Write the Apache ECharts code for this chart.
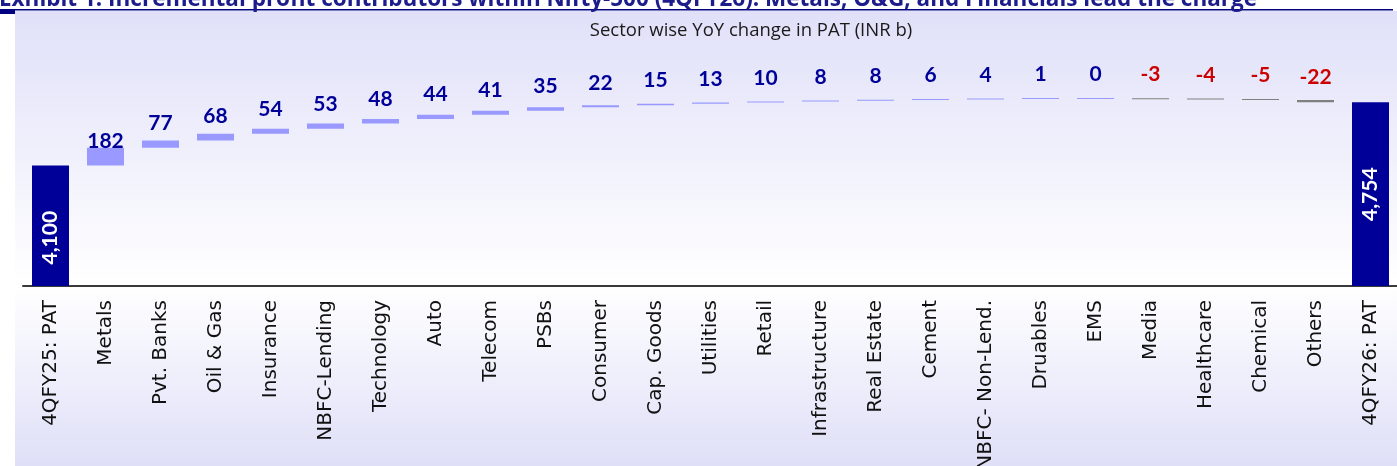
<!DOCTYPE html>
<html><head><meta charset="utf-8">
<script src="https://cdn.jsdelivr.net/npm/echarts@6/dist/echarts.min.js"></script>
<style>html,body{margin:0;padding:0;background:#fff;overflow:hidden}#c{width:1397px;height:466px}</style>
</head><body><div id="c"></div>
<script>
const headerTitle = 'Exhibit 1: Incremental profit contributors within Nifty-500 (4QFY26): Metals, O&G, and Financials lead the charge';
const chartTitle = 'Sector wise YoY change in PAT (INR b)';
const categories = ['4QFY25: PAT','Metals','Pvt. Banks','Oil & Gas','Insurance','NBFC-Lending','Technology','Auto','Telecom','PSBs','Consumer','Cap. Goods','Utilities','Retail','Infrastructure','Real Estate','Cement','NBFC- Non-Lend.','Druables','EMS','Media','Healthcare','Chemical','Others','4QFY26: PAT'];
const openingPAT = 4100;
const closingPAT = 4754;
const changes = [182,77,68,54,53,48,44,41,35,22,15,13,10,8,8,6,4,1,0,-3,-4,-5,-22];

const n = categories.length;
const base = [], inc = [], dec = [], total = [];
let cum = openingPAT;
base.push(0); inc.push('-'); dec.push('-'); total.push(openingPAT);
changes.forEach(v => {
  if (v >= 0) { base.push(cum); inc.push(v); dec.push('-'); }
  else { base.push(cum + v); inc.push('-'); dec.push(-v); }
  total.push('-');
  cum += v;
});
base.push(0); inc.push('-'); dec.push('-'); total.push(closingPAT);

const chart = echarts.init(document.getElementById('c'), null, {renderer: 'canvas'});
const totalData = total.map((v, i) => {
  if (v === '-') return v;
  return i === 0 ? {value: v, label: {offset: [-12, 0]}} : v;
});
chart.setOption({
  animation: false,
  graphic: [
    {type: 'rect', z: -100, shape: {x: 15, y: 11, width: 1382, height: 455},
     style: {fill: {type: 'linear', x: 0, y: 0, x2: 0, y2: 1, colorStops: [
       {offset: 0, color: '#e0e0f9'}, {offset: 0.6, color: '#ffffff'}, {offset: 1, color: '#dfdff8'}]}}},
    {type: 'rect', z: -90, shape: {x: 0, y: 9, width: 1393, height: 1.6}, style: {fill: '#000080'}},
    {type: 'rect', z: -90, shape: {x: 0, y: 9, width: 15, height: 5}, style: {fill: '#000080'}},
    {type: 'text', z: -80, x: -1, y: 11, style: {text: headerTitle, fill: '#1c1c8c', font: 'bold 22.5px "Open Sans"', verticalAlign: 'bottom', align: 'left'}},
    {type: 'text', z: -80, x: 751, y: 31, style: {text: chartTitle, fill: '#1a1a1a', font: '18.5px "Open Sans"', verticalAlign: 'middle', align: 'center'}}
  ],
  grid: {left: 23, width: 1375, top: 40, bottom: 180, containLabel: false, outerBoundsMode: 'none'},
  xAxis: {
    type: 'category', data: categories,
    axisLine: {lineStyle: {color: '#3a3a3a', width: 2}},
    axisTick: {show: false},
    axisLabel: {rotate: 90, interval: 0, margin: 14, color: '#111', fontFamily: 'DejaVu Sans', fontSize: 20}
  },
  yAxis: {type: 'value', min: 2850, max: 5400, show: false, splitLine: {show: false}},
  series: [
    {type: 'bar', stack: 'w', data: base, barWidth: 37, itemStyle: {color: 'transparent'}, silent: true,
     label: {show: true, position: 'top', distance: 14,
       formatter: p => {
         const i = p.dataIndex;
         if (i === 0 || i === n - 1) return '';
         const v = changes[i - 1];
         return v < 0 ? '{n|' + v + '}' : '{p|' + v + '}';
       },
       rich: {
         p: {color: '#000099', fontFamily: 'Lato', fontWeight: 'bold', fontSize: 21},
         n: {color: '#cc0000', fontFamily: 'Lato', fontWeight: 'bold', fontSize: 21}
       }}},
    {type: 'bar', stack: 'w', data: inc, barWidth: 37, barMinHeight: 1, itemStyle: {color: '#9999ff'}},
    {type: 'bar', stack: 'w', data: dec, barWidth: 37, barMinHeight: 1, itemStyle: {color: '#808080'}},
    {type: 'bar', stack: 'w', data: totalData, barWidth: 37, itemStyle: {color: '#000099'},
     label: {show: true, position: 'inside', rotate: 90, color: '#ffffff', fontFamily: 'Lato', fontWeight: 'bold', fontSize: 21,
       formatter: p => p.value.toLocaleString('en-US')}}
  ]
});
</script></body></html>
